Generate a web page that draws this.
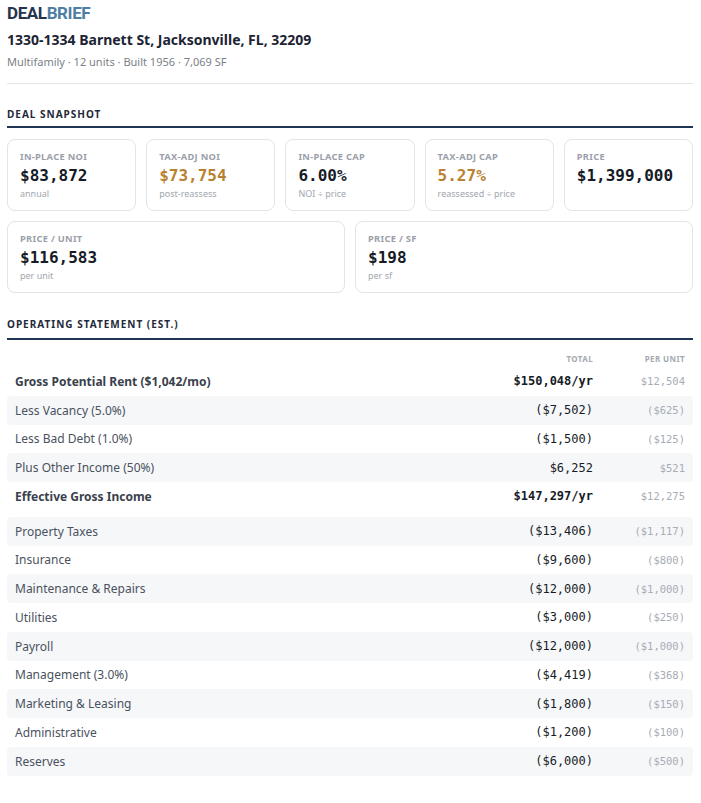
<!DOCTYPE html>
<html>
<head>
<meta charset="utf-8">
<script src="https://cdn.jsdelivr.net/npm/chart.js@4"></script>
<style>
  body { margin: 0; padding: 0 8px 0 7px; background: #fff; font-family: "Noto Sans", sans-serif; color: #1c2433; width: 686px; }
  .logo { font-family: Roboto, sans-serif; font-weight: 700; font-size: 17px; letter-spacing: -0.4px; margin-top: 2px; height: 22px; line-height: 22px; }
  .logo .a { color: #24344d; } .logo .b { color: #4f7ea3; }
  .addr { font-weight: 700; font-size: 14px; margin-top: 6px; line-height: 20px; }
  .sub { font-size: 11px; color: #7a7f88; margin-top: 4px; line-height: 16px; }
  .rule { border-top: 1px solid #e4e6ea; margin-top: 13px; }
  .sec { font-size: 10px; font-weight: 700; letter-spacing: 1px; color: #1f2a3a; margin-top: 23px; padding-bottom: 5px; border-bottom: 2px solid #1f3554; }
  .cards { display: grid; gap: 10px; margin-top: 11px; }
  .row1 { grid-template-columns: repeat(5, 1fr); }
  .row2 { grid-template-columns: repeat(2, 1fr); margin-top: 10px; }
  .card { border: 1px solid #e2e4e8; border-radius: 8px; height: 72px; padding: 0 12px; box-sizing: border-box; }
  .card .l { font-size: 9.3px; font-weight: 700; color: #9ba0aa; letter-spacing: 0.3px; margin-top: 10px; line-height: 14px; }
  .card .v { font-family: "DejaVu Sans Mono", monospace; font-weight: 700; font-size: 16px; margin-top: 2px; line-height: 20px; color: #161b26; }
  .card .v.gold { color: #b98232; }
  .card .s { font-size: 9px; color: #a2a6ae; line-height: 13px; margin-top: 1px; }
  table { width: 100%; border-collapse: collapse; margin-top: 9px; }
  th { font-size: 8px; font-weight: 700; color: #a5a9b1; letter-spacing: 0.4px; text-align: right; height: 18px; padding: 0 8px; }
  td { height: 28.75px; padding: 0 8px; font-size: 12px; color: #4a525e; }
  tr.alt td { background: #f6f7f9; }
  tr.alt td:first-child { border-radius: 4px 0 0 4px; }
  tr.alt td:last-child { border-radius: 0 4px 4px 0; }
  tr.bold td.n { font-weight: 700; color: #3a414c; }
  td.t { text-align: right; font-family: "DejaVu Sans Mono", monospace; font-size: 12px; color: #161b26; width: 160px; }
  tr.bold td.t { font-weight: 700; }
  td.u { text-align: right; font-family: "DejaVu Sans Mono", monospace; font-size: 10.5px; color: #a8acb4; width: 76px; }
  tr.gap td { height: 6px; padding: 0; background: none; }
</style>
</head>
<body>
<div class="logo"><span class="a">DEAL</span><span class="b">BRIEF</span></div>
<div class="addr">1330-1334 Barnett St, Jacksonville, FL, 32209</div>
<div class="sub">Multifamily · 12 units · Built 1956 · 7,069 SF</div>
<div class="rule"></div>
<div class="sec">DEAL SNAPSHOT</div>
<div class="cards row1" id="row1"></div>
<div class="cards row2" id="row2"></div>
<div class="sec" style="margin-top:24px; padding-bottom:7px">OPERATING STATEMENT (EST.)</div>
<table id="ops"></table>
<script>
// snapshot cards
const cardLabels = ['IN-PLACE NOI', 'TAX-ADJ NOI', 'IN-PLACE CAP', 'TAX-ADJ CAP', 'PRICE', 'PRICE / UNIT', 'PRICE / SF'];
const cardValues = ['$83,872', '$73,754', '6.00%', '5.27%', '$1,399,000', '$116,583', '$198'];
const cardNotes = ['annual', 'post-reassess', 'NOI ÷ price', 'reassessed ÷ price', '', 'per unit', 'per sf'];
const cardGold = [false, true, false, true, false, false, false];

// operating statement
const lineItems = ['Gross Potential Rent ($1,042/mo)', 'Less Vacancy (5.0%)', 'Less Bad Debt (1.0%)', 'Plus Other Income (50%)', 'Effective Gross Income',
  'Property Taxes', 'Insurance', 'Maintenance & Repairs', 'Utilities', 'Payroll', 'Management (3.0%)', 'Marketing & Leasing', 'Administrative', 'Reserves'];
const totals = ['$150,048/yr', '($7,502)', '($1,500)', '$6,252', '$147,297/yr',
  '($13,406)', '($9,600)', '($12,000)', '($3,000)', '($12,000)', '($4,419)', '($1,800)', '($1,200)', '($6,000)'];
const perUnit = ['$12,504', '($625)', '($125)', '$521', '$12,275',
  '($1,117)', '($800)', '($1,000)', '($250)', '($1,000)', '($368)', '($150)', '($100)', '($500)'];
const boldRows = [0, 4];

function card(i) {
    const d = document.createElement('div');
    d.className = 'card';
    d.innerHTML = `<div class="l">${cardLabels[i]}</div><div class="v${cardGold[i] ? ' gold' : ''}">${cardValues[i]}</div><div class="s">${cardNotes[i]}</div>`;
    return d;
}

const row1 = document.getElementById('row1');
const row2 = document.getElementById('row2');
cardLabels.forEach((_, i) => (i < 5 ? row1 : row2).appendChild(card(i)));

const table = document.getElementById('ops');
let html = '<tr><th></th><th>TOTAL</th><th>PER UNIT</th></tr>';
let alt = false;
lineItems.forEach((name, i) => {
    if (i === 5) {
        html += '<tr class="gap"><td colspan="3"></td></tr>';
        alt = true;
    }
    const cls = [alt ? 'alt' : '', boldRows.includes(i) ? 'bold' : ''].join(' ');
    html += `<tr class="${cls}"><td class="n">${name}</td><td class="t">${totals[i]}</td><td class="u">${perUnit[i]}</td></tr>`;
    alt = !alt;
});
table.innerHTML = html;
</script>
</body>
</html>
